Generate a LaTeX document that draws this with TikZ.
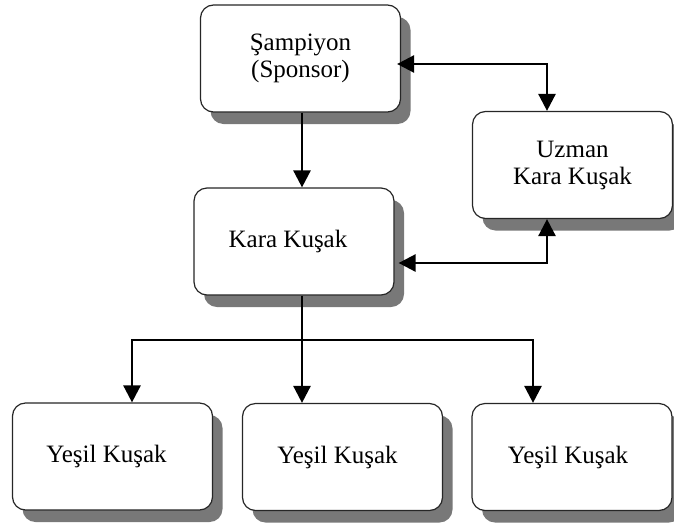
\documentclass[tikz,border=0pt]{standalone}
\usepackage{fontspec}
\setmainfont{Liberation Serif}
\usetikzlibrary{arrows.meta,shadows}
\begin{document}
\begin{tikzpicture}[x=1pt,y=-1pt,
  rolebox/.style={draw=black!85, line width=1.2pt, fill=white, rounded corners=13pt,
    minimum width=200pt, minimum height=107pt, inner sep=0pt, align=center,
    font=\fontsize{25}{27}\selectfont,
    drop shadow={shadow xshift=10pt, shadow yshift=-12pt, fill=black!53, opacity=1}},
  link/.style={line width=2.6pt, black},
  arr/.style={link, -{Triangle[length=17pt,width=17pt]}},
  biarr/.style={link, {Triangle[length=17pt,width=17pt]}-{Triangle[length=17pt,width=17pt]}}
]
\useasboundingbox (0,0) rectangle (674,528);

% roles
\node[rolebox] (sp) at (300.5,58.5) {Şampiyon\\(Sponsor)};
\node[rolebox] (uz) at (572.5,165) {Uzman\\Kara Kuşak};
\node[rolebox] (kk) at (294,241.5) {\hspace*{-12pt}Kara Kuşak};
\node[rolebox] (y1) at (112.5,456.5) {\hspace*{-12pt}Yeşil Kuşak};
\node[rolebox] (y2) at (342.5,457) {\hspace*{-10pt}Yeşil Kuşak};
\node[rolebox] (y3) at (572,457) {\hspace*{-8pt}Yeşil Kuşak};

% distribution point below Kara Kusak
\coordinate (bus) at (302,340);

% champion to black belt
\draw[arr] (sp.south -| bus) -- (kk.north -| bus);

% links with the master black belt
\draw[biarr] ([xshift=-4pt,yshift=-5.5pt]sp.east) -| ([xshift=-25.5pt]uz.north);
\draw[biarr] ([xshift=4pt,yshift=-21.5pt]kk.east) -| ([xshift=-25.5pt]uz.south);

% black belt to green belts
\draw[link] (kk.south -| bus) -- (bus);
\draw[arr] (bus) -| ([xshift=19.5pt]y1.north);
\draw[arr] (bus) -- (y2.north -| bus);
\draw[arr] (bus) -| ([xshift=-39pt]y3.north);
\end{tikzpicture}
\end{document}
